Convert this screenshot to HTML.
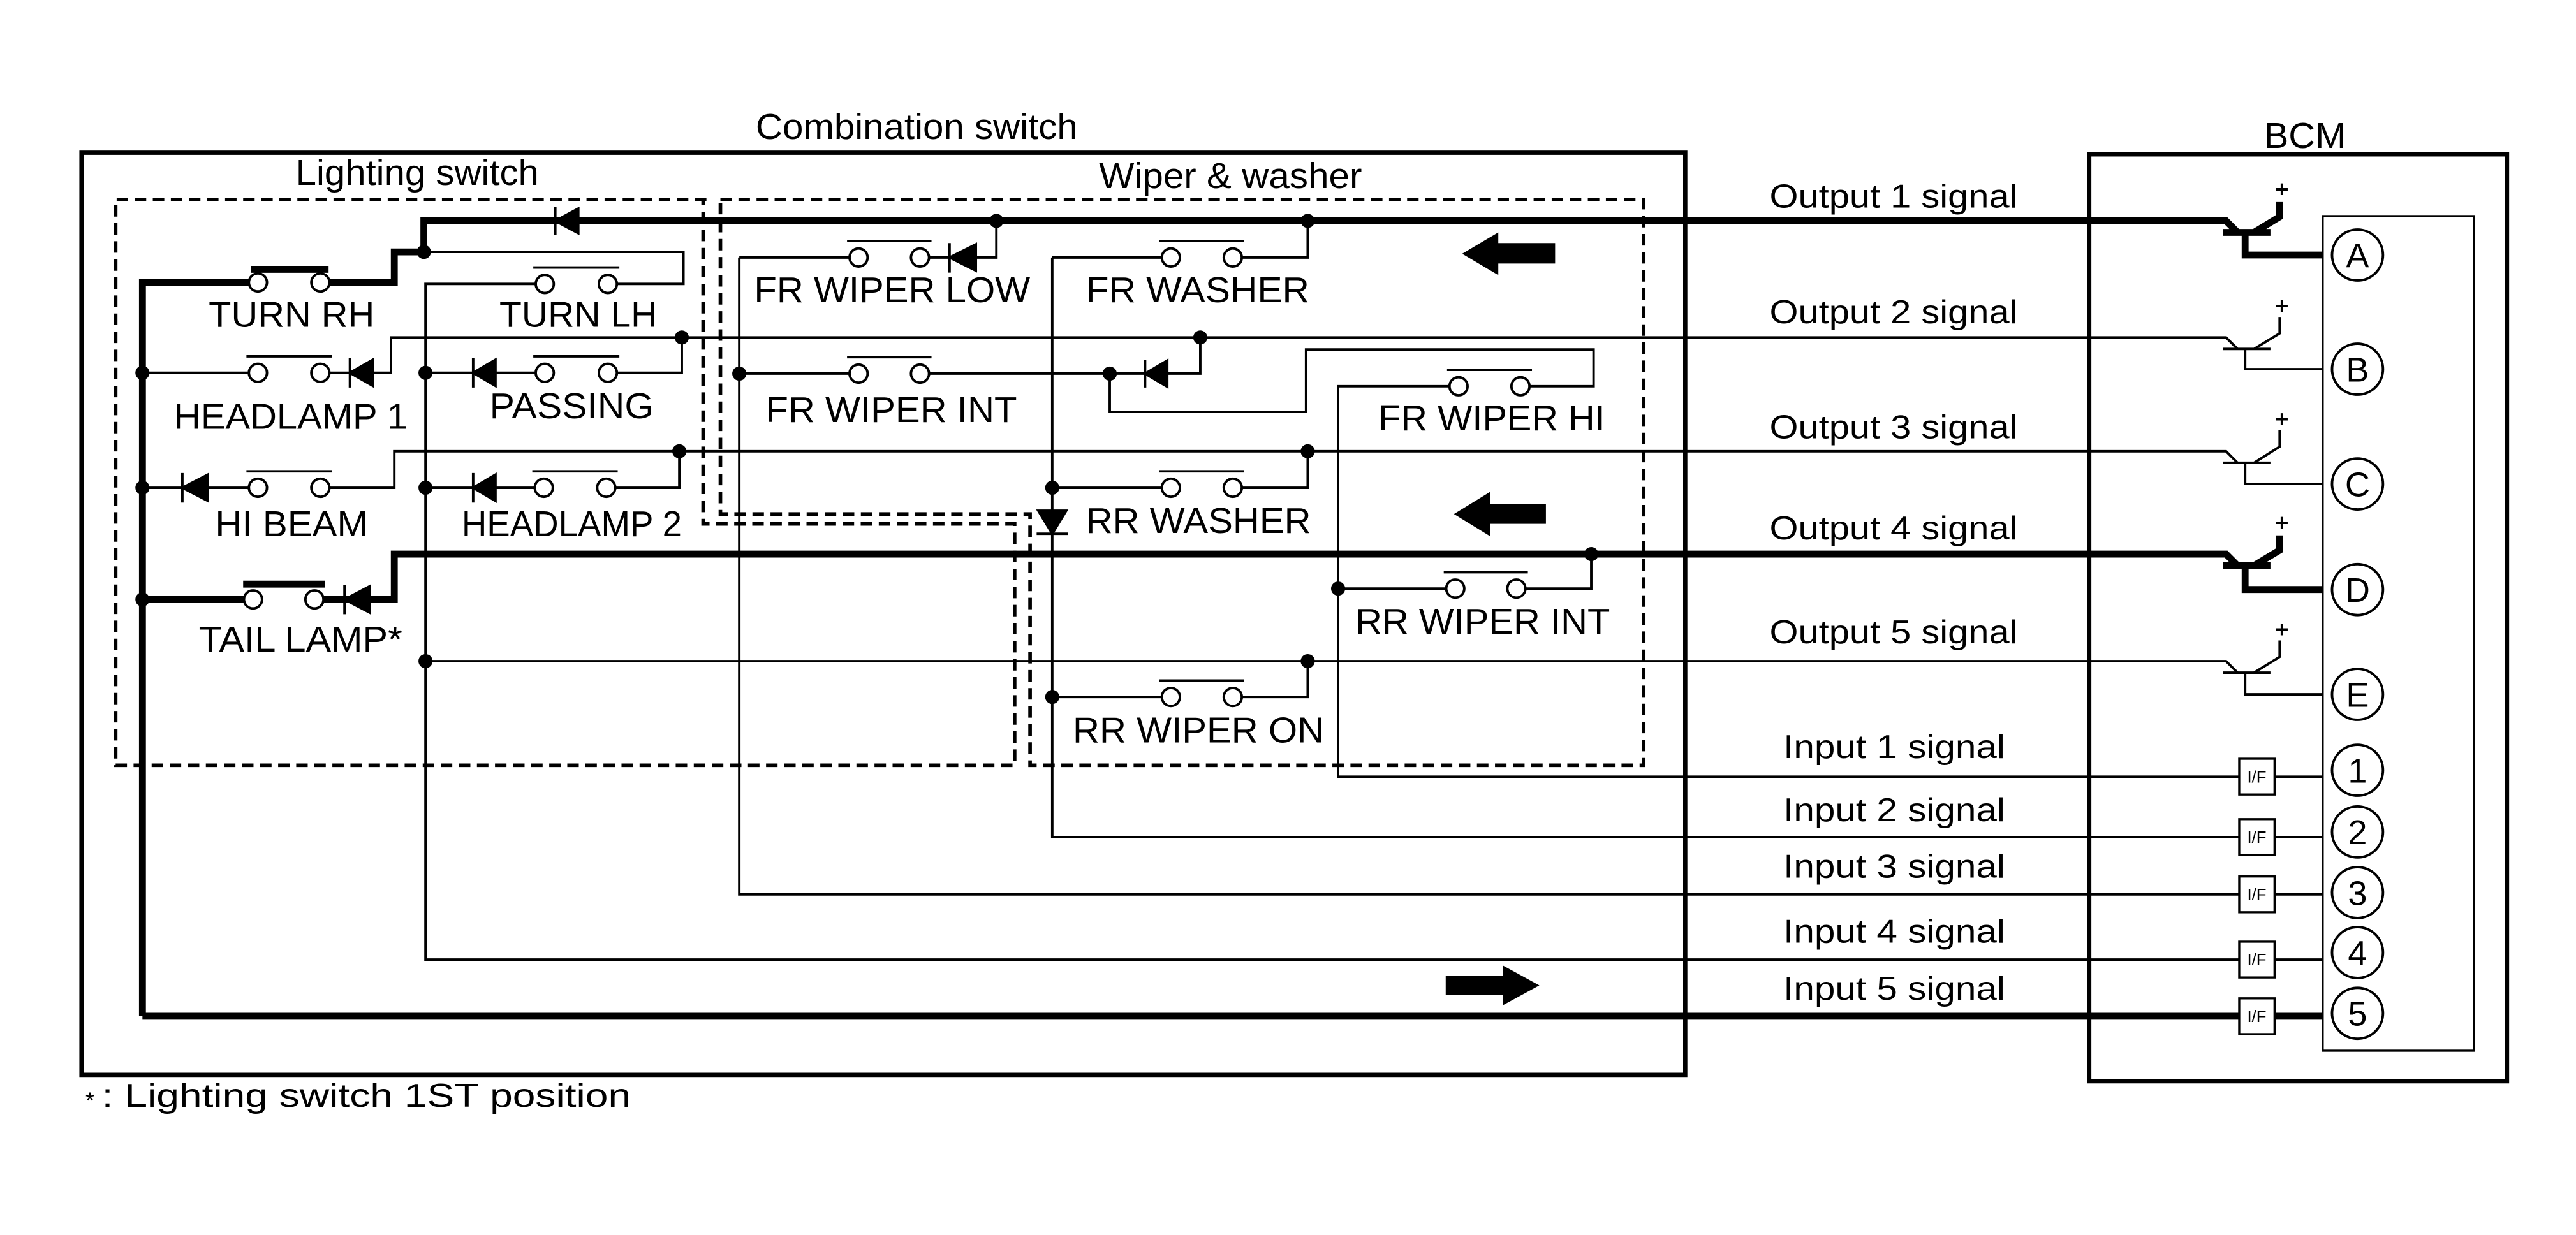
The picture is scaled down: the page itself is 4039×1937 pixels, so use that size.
<!DOCTYPE html>
<html><head><meta charset="utf-8"><style>
html,body{margin:0;padding:0;background:#fff;}
svg{display:block;}
text{font-family:"Liberation Sans",Arial,sans-serif;fill:#000;}
</style></head><body>
<svg width="4039" height="1937" viewBox="0 0 1568 752" preserveAspectRatio="none" xmlns="http://www.w3.org/2000/svg">
<g fill="none" stroke="#000" stroke-linejoin="miter">
<rect x="49.6" y="93" width="976.2" height="561.5" stroke-width="2.6"/>
<rect x="1271.7" y="94" width="254.3" height="564.4" stroke-width="2.6"/>
<rect x="1413.8" y="131.6" width="92.2" height="508.2" stroke-width="1.3"/>
<path d="M430,121.5 H70.4 V466 H617.6 V319 H428 V121.5" stroke-width="2.2" stroke-dasharray="7,4"/>
<path d="M438.5,121.5 H1000.5 V466 H627 V313 H438.5 Z" stroke-width="2.2" stroke-dasharray="7,4"/>
<g stroke-width="4.2">
<path d="M86.7,618.8 V172 H151.5"/>
<path d="M200.5,172 H240 V153.4 H258 V134.5 H1355 L1362,141.5"/>
<path d="M86.7,365 H148.5"/>
<path d="M196.9,365 H240 V337.4 H1355 L1362,344.4"/>
<path d="M86.7,618.8 H1413.8"/>
<path d="M152.6,164 H200"/>
<path d="M148,355.7 H197.6"/>
</g>
<g stroke-width="1.5">
<path d="M258,153.4 H416 V172.9 H375.5"/>
<path d="M326,172.9 H259 V584.3 H1363"/>
<path d="M86.7,227 H151.5"/><path d="M200.5,227 H238 V205.5 H1355 L1362,212.5"/>
<path d="M259,227 H326"/><path d="M375.5,227 H415 V205.5"/>
<path d="M86.7,297 H151.5"/><path d="M200.5,297 H240 V274.8 H1355 L1362,281.8"/>
<path d="M259,297 H325.5"/><path d="M374.5,297 H413.5 V274.8"/>
<path d="M259,402.6 H1355 L1362,409.6"/>
<path d="M882.3,235.2 H814.5 V473 H1363"/>
<path d="M640.5,156.8 V509.7 H1363"/>
<path d="M450,156.8 V544.6 H1363"/>
<path d="M606.5,134.5 V156.8 H565.5"/><path d="M517,156.8 H450"/>
<path d="M796,134.5 V156.8 H756"/><path d="M707,156.8 H640.5"/>
<path d="M450,227.5 H517"/><path d="M565.5,227.5 H675.5"/>
<path d="M730.6,205.5 V227.5 H675.5"/>
<path d="M675.5,227.5 V250.8 H795 V212.8 H970 V235.2 H931"/>
<path d="M796,274.8 V297 H756"/><path d="M707,297 H640.5"/>
<path d="M968.6,337.4 V358.4 H929"/><path d="M880,358.4 H814.5"/>
<path d="M796,402.6 V424.4 H756"/><path d="M707,424.4 H640.5"/>
<path d="M1384.5,473 H1413.8 M1384.5,509.7 H1413.8 M1384.5,544.6 H1413.8 M1384.5,584.3 H1413.8"/>
<path d="M324.6,162.9 H377 M150,217 H202 M324.6,217 H377 M150,287 H202 M324,287 H376 M515.6,146.8 H567 M705.7,146.8 H757.4 M515.6,217.5 H567 M880.8,225.2 H932.5 M705.7,287 H757.4 M878.8,348.4 H930 M705.7,414.4 H757.4"/>
</g>
</g>
<g stroke="#000" fill="none">
<g stroke-width="4.2"><path d="M1353,141.5 H1382 M1366.6,141.5 V155.3 H1413.8 M1372,141.5 L1387.6,132 V123"/></g>
<g stroke-width="4.2"><path d="M1353,344.4 H1382 M1366.6,344.4 V359 H1413.8 M1372,344.4 L1387.6,335 V326"/></g>
<g stroke-width="1.5">
<path d="M1353,212.5 H1382 M1366.6,212.5 V224.8 H1413.8 M1372,212.5 L1387.6,203 V193"/>
<path d="M1353,281.8 H1382 M1366.6,281.8 V294.7 H1413.8 M1372,281.8 L1387.6,272 V262"/>
<path d="M1353,409.6 H1382 M1366.6,409.6 V422.8 H1413.8 M1372,409.6 L1387.6,400 V390"/>
</g>
</g>
<g font-size="14" text-anchor="middle" font-weight="bold">
<text x="1389" y="120">+</text><text x="1389" y="191">+</text><text x="1389" y="260">+</text><text x="1389" y="323">+</text><text x="1389" y="388">+</text>
</g>
<g stroke="#000" stroke-width="1.3" fill="#fff">
<rect x="1363" y="462" width="21.5" height="21.8"/>
<rect x="1363" y="498.8" width="21.5" height="21.8"/>
<rect x="1363" y="533.7" width="21.5" height="21.8"/>
<rect x="1363" y="573.4" width="21.5" height="21.8"/>
<rect x="1363" y="607.9" width="21.5" height="21.8"/>
</g>
<g font-size="10" text-anchor="middle">
<text x="1373.7" y="476.5">I/F</text><text x="1373.7" y="513.2">I/F</text><text x="1373.7" y="548.1">I/F</text><text x="1373.7" y="587.8">I/F</text><text x="1373.7" y="622.3">I/F</text>
</g>
<g stroke="#000" stroke-width="1.5" fill="#fff">
<circle cx="1435" cy="155.3" r="15.5"/><circle cx="1435" cy="224.8" r="15.5"/><circle cx="1435" cy="294.7" r="15.5"/><circle cx="1435" cy="359" r="15.5"/><circle cx="1435" cy="422.8" r="15.5"/>
<circle cx="1435" cy="469" r="15.5"/><circle cx="1435" cy="506.6" r="15.5"/><circle cx="1435" cy="543.5" r="15.5"/><circle cx="1435" cy="580" r="15.5"/><circle cx="1435" cy="617" r="15.5"/>
</g>
<g font-size="21" text-anchor="middle">
<text x="1435" y="162.8">A</text><text x="1435" y="232.3">B</text><text x="1435" y="302.2">C</text><text x="1435" y="366.5">D</text><text x="1435" y="430.3">E</text>
<text x="1435" y="476.5">1</text><text x="1435" y="514.1">2</text><text x="1435" y="551">3</text><text x="1435" y="587.5">4</text><text x="1435" y="624.5">5</text>
</g>
<g stroke="#000" stroke-width="1.5" fill="#fff">
<circle cx="157" cy="172" r="5.5"/><circle cx="195" cy="172" r="5.5"/>
<circle cx="331.6" cy="172.9" r="5.5"/><circle cx="370" cy="172.9" r="5.5"/>
<circle cx="157" cy="227" r="5.5"/><circle cx="195" cy="227" r="5.5"/>
<circle cx="331.6" cy="227" r="5.5"/><circle cx="370" cy="227" r="5.5"/>
<circle cx="157" cy="297" r="5.5"/><circle cx="195" cy="297" r="5.5"/>
<circle cx="331" cy="297" r="5.5"/><circle cx="369" cy="297" r="5.5"/>
<circle cx="154" cy="365" r="5.5"/><circle cx="191.4" cy="365" r="5.5"/>
<circle cx="522.6" cy="156.8" r="5.5"/><circle cx="560" cy="156.8" r="5.5"/>
<circle cx="712.7" cy="156.8" r="5.5"/><circle cx="750.4" cy="156.8" r="5.5"/>
<circle cx="522.6" cy="227.5" r="5.5"/><circle cx="560" cy="227.5" r="5.5"/>
<circle cx="887.8" cy="235.2" r="5.5"/><circle cx="925.5" cy="235.2" r="5.5"/>
<circle cx="712.7" cy="297" r="5.5"/><circle cx="750.4" cy="297" r="5.5"/>
<circle cx="885.8" cy="358.4" r="5.5"/><circle cx="923" cy="358.4" r="5.5"/>
<circle cx="712.7" cy="424.4" r="5.5"/><circle cx="750.4" cy="424.4" r="5.5"/>
</g>
<g fill="#000" stroke="#000" stroke-width="1.5">
<path d="M338,134.5 L352,127 L352,142 Z M338,126 V143"/>
<path d="M213,227 L227,219 L227,235 Z M213,218 V236"/>
<path d="M288,227 L301.6,219 L301.6,235 Z M288,218 V236"/>
<path d="M111,297 L126.5,289 L126.5,305 Z M111,288 V306"/>
<path d="M288,297 L301.6,289 L301.6,305 Z M288,288 V306"/>
<path d="M209.7,365 L225,357 L225,373 Z M209.7,356 V374"/>
<path d="M578,156.8 L594,148.8 L594,164.8 Z M578,148 V166"/>
<path d="M697,227.5 L710.5,219.5 L710.5,235.5 Z M697,219 V236"/>
<path d="M640.5,325 L632,311 L649,311 Z M631,325 H650"/>
</g>
<g fill="#000">
<circle cx="258" cy="153.4" r="4.3"/><circle cx="606.5" cy="134.5" r="4.3"/><circle cx="796" cy="134.5" r="4.3"/>
<circle cx="86.7" cy="227" r="4.3"/><circle cx="86.7" cy="297" r="4.3"/><circle cx="86.7" cy="365" r="4.3"/>
<circle cx="259" cy="227" r="4.3"/><circle cx="259" cy="297" r="4.3"/><circle cx="259" cy="402.6" r="4.3"/>
<circle cx="415" cy="205.5" r="4.3"/><circle cx="413.5" cy="274.8" r="4.3"/>
<circle cx="450" cy="227.5" r="4.3"/><circle cx="675.5" cy="227.5" r="4.3"/><circle cx="730.6" cy="205.5" r="4.3"/>
<circle cx="796" cy="274.8" r="4.3"/><circle cx="640.5" cy="297" r="4.3"/>
<circle cx="968.6" cy="337.4" r="4.3"/><circle cx="814.5" cy="358.4" r="4.3"/>
<circle cx="796" cy="402.6" r="4.3"/><circle cx="640.5" cy="424.4" r="4.3"/>
<path d="M890,154.5 L912,141.5 V148 H946.6 V160.5 H912 V167.5 Z"/>
<path d="M885,313 L907,299.5 V307 H941 V319 H907 V326.5 Z"/>
<path d="M937,600 L915,588 V594 H880 V606 H915 V612 Z"/>
</g>
<g font-size="22" text-anchor="middle">
<text x="558" y="84.6" textLength="196" lengthAdjust="spacingAndGlyphs">Combination switch</text>
<text x="254" y="112.6" textLength="148" lengthAdjust="spacingAndGlyphs">Lighting switch</text>
<text x="749" y="114.5" textLength="160" lengthAdjust="spacingAndGlyphs">Wiper &amp; washer</text>
<text x="1403" y="90" textLength="50" lengthAdjust="spacingAndGlyphs">BCM</text>
<text x="177.5" y="199" textLength="101" lengthAdjust="spacingAndGlyphs">TURN RH</text>
<text x="352" y="199" textLength="96" lengthAdjust="spacingAndGlyphs">TURN LH</text>
<text x="177" y="261" textLength="142" lengthAdjust="spacingAndGlyphs">HEADLAMP 1</text>
<text x="348" y="254.7" textLength="100" lengthAdjust="spacingAndGlyphs">PASSING</text>
<text x="177.5" y="326.5" textLength="93" lengthAdjust="spacingAndGlyphs">HI BEAM</text>
<text x="348" y="326.5" textLength="134" lengthAdjust="spacingAndGlyphs">HEADLAMP 2</text>
<text x="183" y="396.7" textLength="124" lengthAdjust="spacingAndGlyphs">TAIL LAMP*</text>
<text x="543" y="184" textLength="168" lengthAdjust="spacingAndGlyphs">FR WIPER LOW</text>
<text x="729" y="184" textLength="136" lengthAdjust="spacingAndGlyphs">FR WASHER</text>
<text x="542.5" y="257" textLength="153" lengthAdjust="spacingAndGlyphs">FR WIPER INT</text>
<text x="908" y="262" textLength="138" lengthAdjust="spacingAndGlyphs">FR WIPER HI</text>
<text x="729.5" y="324.5" textLength="137" lengthAdjust="spacingAndGlyphs">RR WASHER</text>
<text x="902.5" y="386" textLength="155" lengthAdjust="spacingAndGlyphs">RR WIPER INT</text>
<text x="729.5" y="452" textLength="153" lengthAdjust="spacingAndGlyphs">RR WIPER ON</text>
</g>
<g font-size="20" text-anchor="middle">
<text x="1152.6" y="126.4" textLength="151" lengthAdjust="spacingAndGlyphs">Output 1 signal</text>
<text x="1152.6" y="196.9" textLength="151" lengthAdjust="spacingAndGlyphs">Output 2 signal</text>
<text x="1152.6" y="267" textLength="151" lengthAdjust="spacingAndGlyphs">Output 3 signal</text>
<text x="1152.6" y="328.5" textLength="151" lengthAdjust="spacingAndGlyphs">Output 4 signal</text>
<text x="1152.6" y="391.7" textLength="151" lengthAdjust="spacingAndGlyphs">Output 5 signal</text>
<text x="1153" y="461.6" textLength="135" lengthAdjust="spacingAndGlyphs">Input 1 signal</text>
<text x="1153" y="500" textLength="135" lengthAdjust="spacingAndGlyphs">Input 2 signal</text>
<text x="1153" y="534.4" textLength="135" lengthAdjust="spacingAndGlyphs">Input 3 signal</text>
<text x="1153" y="574" textLength="135" lengthAdjust="spacingAndGlyphs">Input 4 signal</text>
<text x="1153" y="608.7" textLength="135" lengthAdjust="spacingAndGlyphs">Input 5 signal</text>
</g>
<text x="52" y="675" font-size="14">*</text>
<text x="62" y="674" font-size="20" textLength="322" lengthAdjust="spacingAndGlyphs">: Lighting switch 1ST position</text>
</svg>
</body></html>
